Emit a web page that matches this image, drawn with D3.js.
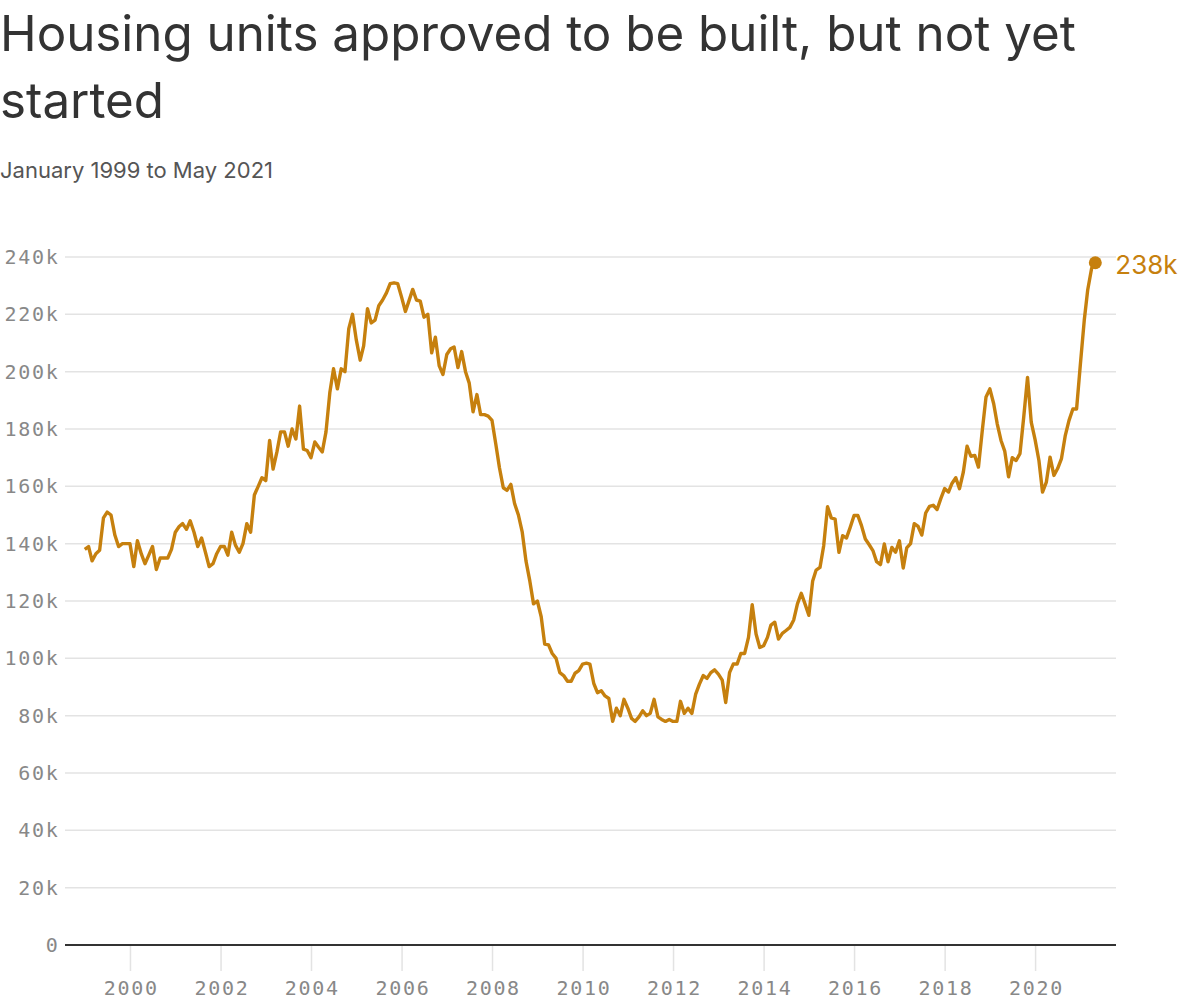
<!DOCTYPE html>
<html>
<head>
<meta charset="utf-8">
<script src="https://cdn.jsdelivr.net/npm/d3@7"></script>
<style>
  body { margin: 0; background: #fff; }
</style>
</head>
<body>
<script>
// settings
var width = 1200, height = 1000;
var lineColor = '#c6800e';

// data: housing units authorized but not started, thousands, monthly from Jan 1999
var startYear = 1999;
var unitsK = [
  138,139,134,136.5,137.7,149,151,150,143,139,140,140,           // 1999
  140,132,141,136.5,133,136,139,131,135,135,135,138,             // 2000
  144,146,147,145,148,144,139,142,137,132,133,136.5,             // 2001
  139,139,136,144,139.5,137,140,147,144,157,160,163,             // 2002
  162,176,166,172,179,179,174,180,176.5,188,173,172.5,           // 2003
  170,175.5,173.7,172,179,192.7,201,194,201,200,215,220,         // 2004
  211,204,209,222,217,218,223,225,227.5,230.7,231,230.7,         // 2005
  226,221,224.6,228.7,225,224.6,219,220,206.6,212,202,199,       // 2006
  206,208,208.6,201.4,207,200,196,186,192,185,185,184.5,         // 2007
  183,174.6,166.5,159.5,158.6,160.7,154,150,144,134,127,119,     // 2008
  120,114.5,105,104.7,101.7,100,95,94,92,92,94.8,95.7,           // 2009
  98,98.3,98,91.3,88,88.7,86.9,86,78,82.6,80,85.7,               // 2010
  82.6,79,78,79.6,81.7,80,80.8,85.7,79.6,78.7,78,78.7,           // 2011
  78,78,85,80.8,82.6,80.8,87.4,91,94,93,95,96,                   // 2012
  94.5,92.4,84.6,95,98,98,101.7,101.7,107.3,118.7,108.5,103.8,   // 2013
  104.4,107.3,111.6,112.6,106.7,108.7,109.7,110.8,113.4,119,122.7,119, // 2014
  115,127,130.8,131.7,139.3,152.9,149,148.6,137,142.8,142,145.7, // 2015
  149.8,149.8,146.3,141.6,139.7,137.6,133.7,132.7,139.9,133.7,138.7,137, // 2016
  141,131.5,138.5,140,147,146,143,150.7,153,153.4,151.9,155.7,   // 2017
  159.2,158,161,163,159.2,165,174,170.5,170.8,166.7,179.5,191.2, // 2018
  194,188.8,181.9,176,172.3,163.3,170,169,171.4,184,198,182.4,   // 2019
  176.3,169,158,161.5,170.2,163.8,166.2,169.7,177.8,183,187,187, // 2020
  202.8,218,228.6,236,238                                        // 2021
];
var yTicks = [0, 20, 40, 60, 80, 100, 120, 140, 160, 180, 200, 220, 240];
var xTickYears = [2000, 2002, 2004, 2006, 2008, 2010, 2012, 2014, 2016, 2018, 2020];

var data = unitsK.map(function (v, i) {
  return { date: new Date(startYear, i, 1), value: v };
});

// svg
var svg = d3.select('body').append('svg')
  .attr('width', width)
  .attr('height', height);

// title + subtitle
var title = svg.append('text')
  .style('font-family', 'Inter, sans-serif')
  .style('font-size', '49.3px')
  .style('fill', '#333');
title.append('tspan').attr('x', 0).attr('y', 51).text('Housing units approved to be built, but not yet');
title.append('tspan').attr('x', 0).attr('y', 118).text('started');

svg.append('text')
  .attr('x', 0)
  .attr('y', 178)
  .style('font-family', 'Inter, sans-serif')
  .style('font-size', '22px')
  .style('fill', '#555')
  .text('January 1999 to May 2021');

// scales
var plotLeft = 65, plotRight = 1116;
var x = d3.scaleTime()
  .domain([new Date(1999, 0, 1), new Date(2021, 4, 1)])
  .range([84.75, 1095.3]);
var y = d3.scaleLinear()
  .domain([0, 240])
  .range([945, 257]);

// gridlines
svg.append('g')
  .selectAll('line')
  .data(yTicks.filter(function (d) { return d > 0; }))
  .enter().append('line')
  .attr('x1', plotLeft)
  .attr('x2', plotRight)
  .attr('y1', function (d) { return y(d); })
  .attr('y2', function (d) { return y(d); })
  .style('stroke', '#e3e3e3')
  .style('stroke-width', 1.5);

// y labels
svg.append('g')
  .selectAll('text')
  .data(yTicks)
  .enter().append('text')
  .attr('x', 59.5)
  .attr('y', function (d) { return y(d) + 7; })
  .attr('text-anchor', 'end')
  .style('font-family', '"DejaVu Sans Mono", monospace')
  .style('font-size', '20px')
  .style('letter-spacing', '1.7px')
  .style('fill', '#888')
  .text(function (d) { return d === 0 ? '0' : d + 'k'; });

// x axis
var xAxis = d3.axisBottom(x)
  .tickValues(xTickYears.map(function (yr) { return new Date(yr, 0, 1); }))
  .tickFormat(d3.timeFormat('%Y'))
  .tickSize(26)
  .tickPadding(10);

var gx = svg.append('g')
  .attr('transform', 'translate(0,' + y(0) + ')')
  .call(xAxis);
gx.select('.domain').remove();
gx.selectAll('.tick line').style('stroke', '#e3e3e3').style('stroke-width', 1.5);
gx.selectAll('.tick text')
  .attr('dx', '0.85px')
  .style('font-family', '"DejaVu Sans Mono", monospace')
  .style('font-size', '20px')
  .style('letter-spacing', '1.7px')
  .style('fill', '#888');

svg.append('line')
  .attr('x1', plotLeft)
  .attr('x2', plotRight)
  .attr('y1', y(0))
  .attr('y2', y(0))
  .style('stroke', '#333')
  .style('stroke-width', 2);

// line
var line = d3.line()
  .x(function (d) { return x(d.date); })
  .y(function (d) { return y(d.value); });

svg.append('path')
  .datum(data)
  .attr('d', line)
  .style('fill', 'none')
  .style('stroke', lineColor)
  .style('stroke-width', 3.4)
  .style('stroke-linejoin', 'round');

// last point
var last = data[data.length - 1];
svg.append('circle')
  .attr('cx', x(last.date))
  .attr('cy', y(last.value))
  .attr('r', 6.5)
  .style('fill', lineColor);

svg.append('text')
  .attr('x', x(last.date) + 20)
  .attr('y', y(last.value) + 11)
  .style('font-family', 'Inter, sans-serif')
  .style('font-size', '26px')
  .style('fill', lineColor)
  .text(Math.round(last.value) + 'k');
</script>
</body>
</html>
